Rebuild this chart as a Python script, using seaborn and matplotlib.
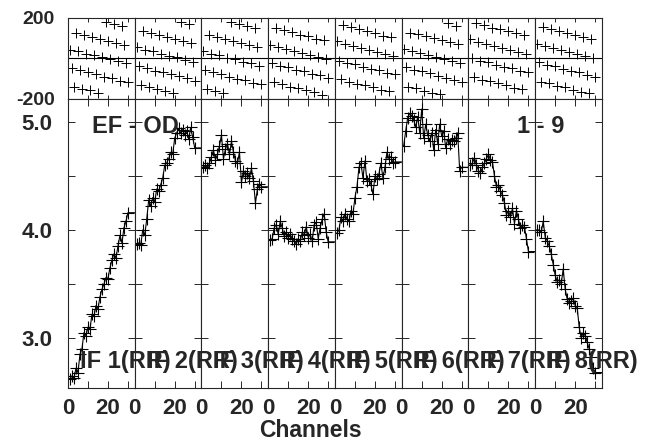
import numpy as np
import matplotlib
matplotlib.use("Agg")
import matplotlib.pyplot as plt
import seaborn as sns

# channels per IF
channels = list(range(1, 31))
if_numbers = [1, 2, 3, 4, 5, 6, 7, 8]

# amplitude per IF (RR)
amp_if1 = [2.62, 2.65, 2.63, 2.72, 2.68, 2.85, 2.90, 3.05, 3.02, 3.10, 3.08, 3.22, 3.20, 3.30, 3.27,
           3.38, 3.45, 3.50, 3.56, 3.55, 3.65, 3.72, 3.78, 3.74, 3.85, 3.95, 3.88, 4.02, 4.08, 4.16]
amp_if2 = [3.87, 3.88, 3.86, 4.00, 3.95, 4.10, 4.28, 4.22, 4.30, 4.26, 4.38, 4.36, 4.42, 4.48, 4.60,
           4.62, 4.66, 4.72, 4.70, 4.85, 4.90, 4.94, 4.90, 4.93, 4.88, 4.92, 4.84, 4.95, 4.86, 4.76]
amp_if3 = [4.58, 4.60, 4.57, 4.62, 4.68, 4.74, 4.65, 4.70, 4.78, 4.88, 4.66, 4.75, 4.80, 4.70, 4.82,
           4.72, 4.64, 4.62, 4.72, 4.44, 4.55, 4.50, 4.53, 4.48, 4.57, 4.45, 4.25, 4.38, 4.43, 4.40]
amp_if4 = [3.91, 3.92, 4.02, 4.05, 3.96, 4.08, 4.02, 3.94, 3.98, 3.93, 3.96, 3.92, 3.90, 3.87, 3.92,
           3.90, 3.98, 3.95, 4.03, 3.93, 3.96, 3.90, 4.05, 4.07, 3.92, 4.02, 4.10, 4.15, 3.98, 3.89]
amp_if5 = [3.97, 4.00, 4.12, 4.08, 4.15, 4.10, 4.08, 4.18, 4.15, 4.30, 4.40, 4.58, 4.62, 4.48, 4.64,
           4.45, 4.47, 4.42, 4.33, 4.50, 4.47, 4.52, 4.62, 4.48, 4.58, 4.72, 4.66, 4.68, 4.62, 4.63]
amp_if6 = [4.78, 4.92, 5.04, 5.08, 5.06, 5.02, 4.95, 5.05, 4.90, 5.12, 4.85, 4.98, 4.88, 4.82, 4.90,
           4.74, 4.93, 4.80, 4.98, 4.87, 4.92, 4.76, 4.84, 4.80, 4.83, 4.82, 4.85, 4.90, 4.55, 4.58]
amp_if7 = [4.60, 4.62, 4.67, 4.60, 4.55, 4.53, 4.58, 4.62, 4.66, 4.70, 4.65, 4.63, 4.50, 4.40, 4.42,
           4.36, 4.32, 4.25, 4.14, 4.18, 4.12, 4.20, 4.06, 4.18, 4.10, 4.02, 4.05, 4.03, 3.92, 3.80]
amp_if8 = [4.00, 4.00, 3.98, 4.08, 3.93, 3.90, 3.85, 3.78, 3.68, 3.58, 3.52, 3.54, 3.50, 3.64, 3.45,
           3.36, 3.32, 3.34, 3.37, 3.30, 3.28, 3.10, 3.00, 3.05, 3.02, 2.96, 2.90, 2.82, 2.72, 2.68]

# phase per IF (degrees)
ph_if1 = [44, -46, -141, 125, 36, -57, -152, 118, 22, -66, -158, 108, 16, -79, -169,
          95, 5, -90, 178, 88, -4, -97, 170, 75, -14, -110, 161, 66, -24, -117]
ph_if2 = [55, -36, -132, 138, 43, -49, -139, 126, 36, -60, -149, 118, 23, -67, -162,
          108, 13, -79, -171, 96, 6, -88, 178, 86, -7, -97, 170, 78, -16, -109]
ph_if3 = [35, -56, -152, 118, 23, -69, -159, 105, 16, -77, -172, 98, 3, -89, 178,
          86, -4, -100, 170, 78, -17, -106, 158, 68, -24, -119, 151, 55, -36, -127]
ph_if4 = [68, -23, -118, 152, 56, -36, -126, 139, 49, -44, -139, 131, 36, -57, -146,
          118, 29, -63, -158, 111, 16, -76, -166, 98, 9, -84, -178, 91, -3, -94]
ph_if5 = [84, -12, -101, 166, 71, -21, -114, 157, 61, -28, -124, 144, 54, -41, -131,
          136, 40, -52, -141, 124, 34, -59, -154, 113, 24, -71, -161, 106, 11, -79]
ph_if6 = [49, -43, -139, 128, 39, -56, -146, 121, 26, -63, -159, 112, 19, -74, -168,
          99, 8, -87, -176, 91, -1, -96, 173, 79, -14, -104, 161, 71, -21, -116]
ph_if7 = [94, 2, -91, 176, 81, -11, -104, 166, 74, -18, -113, 153, 64, -31, -121,
          147, 51, -42, -131, 134, 44, -49, -144, 126, 31, -62, -151, 114, 24, -69]
ph_if8 = [71, -18, -114, 157, 61, -32, -121, 146, 54, -38, -134, 134, 44, -51, -141,
          124, 31, -61, -154, 116, 21, -69, -164, 106, 14, -81, -171, 94, 4, -89]

amps = [amp_if1, amp_if2, amp_if3, amp_if4, amp_if5, amp_if6, amp_if7, amp_if8]
phases = [ph_if1, ph_if2, ph_if3, ph_if4, ph_if5, ph_if6, ph_if7, ph_if8]

sns.set_style("ticks")
plt.rcParams["font.family"] = ["Liberation Sans", "DejaVu Sans"]
plt.rcParams["font.weight"] = "bold"
plt.rcParams["axes.linewidth"] = 0.8
plt.rcParams["axes.unicode_minus"] = False

XMAX = 33.4
fig, axes = plt.subplots(2, 8, figsize=(6.45, 4.43), dpi=100,
                         gridspec_kw={"height_ratios": [81, 289]})
fig.subplots_adjust(left=0.1054, right=0.9333, top=0.9594, bottom=0.1242,
                    wspace=0, hspace=0)

for i in range(8):
    ax_p = axes[0, i]
    ax_a = axes[1, i]

    # phase
    ax_p.axhline(0, color="k", lw=0.8)
    sns.scatterplot(x=channels, y=phases[i], ax=ax_p, marker="+", s=42,
                    color="k", linewidth=0.7, legend=False)
    ax_p.set_xlim(0, XMAX)
    ax_p.set_ylim(-200, 200)
    ax_p.set_xticks([10, 20, 30])
    ax_p.set_xticklabels([])
    ax_p.tick_params(axis="x", direction="in", top=True, bottom=True, length=3, width=0.7)
    ax_p.set_yticks([-200, 200])
    ax_p.tick_params(axis="y", length=0, labelsize=14, pad=9.5)
    if i > 0:
        ax_p.set_yticklabels([])

    # amplitude, line held flat out to the panel edges
    x_line = np.r_[0, channels, XMAX]
    y_line = np.r_[amps[i][0], amps[i], amps[i][-1]]
    sns.lineplot(x=x_line, y=y_line, ax=ax_a, color="k", linewidth=0.8, sort=False)
    sns.lineplot(x=channels, y=amps[i], ax=ax_a, color="k", linestyle="", marker="+",
                 markersize=8, markeredgewidth=0.8, markeredgecolor="k", sort=False)
    ax_a.set_xlim(0, XMAX)
    ax_a.set_ylim(2.537, 5.213)
    ax_a.set_xticks([0, 10, 20, 30])
    ax_a.set_xticklabels(["0", "", "20", ""])
    ax_a.set_yticks([3.0, 4.0, 5.0])
    ax_a.set_yticks([3.5, 4.5], minor=True)
    ax_a.set_yticklabels(["3.0", "4.0", "5.0"])
    ax_a.tick_params(which="both", direction="in", top=True, right=True, left=True,
                     length=5, width=0.7)
    ax_a.tick_params(axis="x", labelsize=16, pad=7)
    ax_a.tick_params(axis="y", labelsize=16, pad=11)
    if i > 0:
        ax_a.set_yticklabels([])
    ax_a.set_xlabel("")

# IF labels at figure level so neighbouring panels do not hide them
for i in range(8):
    fig.text(6, 2.72, f"IF {if_numbers[i]}(RR)", transform=axes[1, i].transData,
             fontsize=17, fontweight="bold", ha="left", va="baseline")

fig.text(92 / 645, 1 - 133 / 443, "EF - OD", fontsize=17, fontweight="bold",
         ha="left", va="baseline")
fig.text(517 / 645, 1 - 133 / 443, "1 - 9", fontsize=17, fontweight="bold",
         ha="left", va="baseline")
fig.text(310 / 645, 1 - 437 / 443, "Channels", fontsize=16.5, fontweight="bold",
         ha="center", va="baseline")

fig.savefig("out.png", dpi=100)
